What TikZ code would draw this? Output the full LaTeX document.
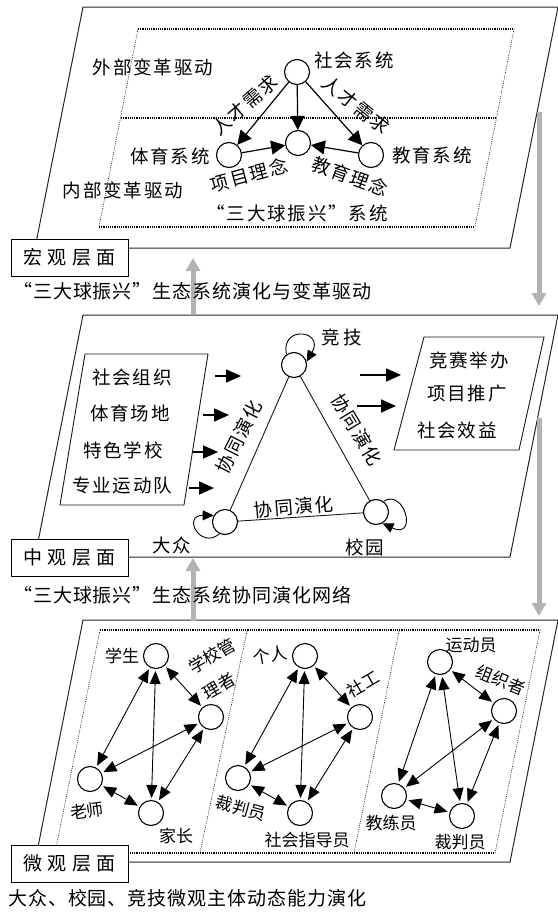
\documentclass[tikz,border=0pt]{standalone}
\usepackage{fontspec}
\newfontfamily\cjk[LetterSpace=10]{Noto Sans CJK SC}
\newfontfamily\cjkc[LetterSpace=5]{Noto Sans CJK SC}
\newfontfamily\cjkw[LetterSpace=28]{Noto Sans CJK SC}
\newfontfamily\cjkn{Noto Sans CJK SC}
\usetikzlibrary{arrows.meta}
\begin{document}
\begin{tikzpicture}[x=1pt,y=-1pt,
  panel/.style={draw=black!85, line width=1pt},
  dotthick/.style={line width=1.3pt, dash pattern=on 1.1pt off 1.1pt},
  dotthin/.style={line width=0.6pt, dash pattern=on 0.9pt off 1.3pt},
  thinline/.style={line width=0.9pt, draw=black!90},
  circ/.style={circle, draw, line width=1.1pt, minimum size=25pt, inner sep=0pt, fill=white},
  txt/.style={inner sep=0pt, font=\cjk\fontsize{18.5}{20}\selectfont},
  sml/.style={inner sep=0pt, font=\cjkn\fontsize{17}{18}\selectfont},
  captxt/.style={inner sep=0pt, anchor=west, font=\cjkc\fontsize{19}{20}\selectfont},
  lbl/.style={draw, fill=white, line width=1pt, minimum width=117pt, minimum height=37pt, inner sep=0pt, font=\cjkw\fontsize{19}{20}\selectfont},
  bigarr/.style={line width=1.2pt, -{Triangle[length=14pt,width=14pt]}},
  marr/.style={line width=1.8pt, -{Triangle[length=15pt,width=13pt]}},
  darr/.style={line width=0.9pt, {Triangle[length=13pt,width=11pt]}-{Triangle[length=13pt,width=11pt]}, shorten <=2pt, shorten >=2pt},
  larr/.style={line width=0.9pt, -{Triangle[length=11pt,width=10pt]}},
  garr/.style={line width=5pt, draw=black!30, -{Triangle[length=13pt,width=14pt]}}
]
\useasboundingbox (0,0) rectangle (557,913);
\fill[white] (0,0) rectangle (557,913);

% ================= MACRO =================
\draw[panel] (83,7) -- (558,7) -- (510,248) -- (35,248) -- cycle;
\draw[dotthick] (138,29) -- (514,29);
\draw[dotthick] (99,227) -- (475,227);
\draw[dotthick] (121,118) -- (496,118);
\draw[dotthin] (138,29) -- (99,227);
\draw[dotthin] (514,29) -- (475,227);

\node[txt] (wb) at (153,67) {外部变革驱动};
\node[txt] (nb) at (123,190) {内部变革驱动};
\node[circ] (sh) at (297,72) {};
\node[circ] (ct) at (298,143) {};
\node[circ] (ty) at (229,155) {};
\node[circ] (jy) at (371,155) {};
\node[txt] (sht) at (354,60) {社会系统};
\node[txt] (tyt) at (170,156) {体育系统};
\node[txt] (jyt) at (432,155) {教育系统};
\draw[bigarr] (sh) -- (ty);
\draw[bigarr] (sh) -- (ct);
\draw[bigarr] (sh) -- (jy);
\draw[bigarr] (ty) -- (ct);
\draw[bigarr] (jy) -- (ct);
\node[txt, rotate=41] (rc1) at (245,105) {人才需求};
\node[txt, rotate=-39] (rc2) at (356,105) {人才需求};
\node[txt, rotate=15] (xm) at (249,175) {项目理念};
\node[txt, rotate=-20] (jl) at (350,176) {教育理念};
\node[txt] (sys) at (297,213) {“三大球振兴”系统};

% ================= MESO =================
\draw[panel] (83,315) -- (558,315) -- (510,557) -- (35,557) -- cycle;
\draw[thinline] (85,354) -- (208,354) -- (184,505) -- (60,505) -- cycle;
\draw[thinline] (424,337) -- (544,337) -- (519,450) -- (394,450) -- cycle;
\node[txt] (l1) at (132,377) {社会组织};
\node[txt] (l2) at (130,413) {体育场地};
\node[txt] (l3) at (123,450) {特色学校};
\node[txt] (l4) at (122,485) {专业运动队};
\node[txt] (r1) at (469,360) {竞赛举办};
\node[txt] (r2) at (467,394) {项目推广};
\node[txt] (r3) at (457,430) {社会效益};

\coordinate (a1s) at (215,376); \coordinate (a1e) at (241,376);
\coordinate (a2s) at (203,415); \coordinate (a2e) at (229,415);
\coordinate (a3s) at (193,452); \coordinate (a3e) at (218,452);
\coordinate (a4s) at (189,488); \coordinate (a4e) at (214,488);
\coordinate (b1s) at (360,375); \coordinate (b1e) at (401,375);
\coordinate (b2s) at (357,406); \coordinate (b2e) at (396,406);
\draw[marr] (a1s) -- (a1e);
\draw[marr] (a2s) -- (a2e);
\draw[marr] (a3s) -- (a3e);
\draw[marr] (a4s) -- (a4e);
\draw[marr] (b1s) -- (b1e);
\draw[marr] (b2s) -- (b2e);

\node[circ] (jj) at (294,365) {};
\node[circ] (dz) at (225,522) {};
\node[circ] (xy) at (376,512) {};
\draw[thinline] (jj) -- (dz);
\draw[thinline] (jj) -- (xy);
\draw[thinline] (dz) -- (xy);
\draw[larr] (jj.125) .. controls (280,325) and (325,330) .. (jj.15);
\draw[larr] (dz.-115) .. controls (200,550) and (182,515) .. (dz.150);
\draw[larr] (xy.55) .. controls (405,488) and (418,540) .. (xy.-60);
\node[txt] (jjt) at (342,337) {竞\,技};
\node[txt] (dzt) at (172,545) {大众};
\node[txt] (xyt) at (365,547) {校园};
\node[txt, rotate=63] (e1) at (239,437) {协同演化};
\node[txt, rotate=-59] (e2) at (357,430) {协同演化};
\node[txt, rotate=5] (e3) at (294,507) {协同演化};

% ================= MICRO =================
\draw[panel] (83,620) -- (558,620) -- (510,862) -- (35,862) -- cycle;
\draw[dotthick] (100,630) -- (540,630);
\draw[dotthick] (55,853) -- (495,853);
\draw[dotthin] (100,630) -- (55,853);
\draw[dotthin] (540,630) -- (495,853);
\draw[dotthin] (247,631) -- (200,853);
\draw[dotthin] (399,631) -- (354,853);

\node[circ] (xs) at (156,656) {};
\node[circ] (gl) at (211,717) {};
\node[circ] (ls) at (90,779) {};
\node[circ] (jz) at (151,813) {};
\node[circ] (gr) at (305,656) {};
\node[circ] (sg) at (360,717) {};
\node[circ] (cpa) at (238,778) {};
\node[circ] (zd) at (300,813) {};
\node[circ] (yd) at (440,662) {};
\node[circ] (zz) at (504,711) {};
\node[circ] (jlc) at (394,796) {};
\node[circ] (cpb) at (462,816) {};
\foreach \a/\b in {xs/ls, xs/jz, xs/gl, gl/ls, gl/jz, ls/jz,
                   gr/cpa, gr/zd, gr/sg, sg/cpa, sg/zd, cpa/zd,
                   yd/jlc, yd/cpb, yd/zz, zz/jlc, zz/cpb, jlc/cpb}
  \draw[darr] (\a) -- (\b);

\node[sml] (xst) at (122,656) {学生};
\node[sml, rotate=30] (glt1) at (212,656) {学校管};
\node[sml, rotate=30] (glt2) at (219,686) {理者};
\node[sml, rotate=8] (lst) at (87,811) {老师};
\node[sml] (jzt) at (176,836) {家长};
\node[sml, rotate=10] (grt) at (270,655) {个人};
\node[sml, rotate=30] (sgt) at (363,684) {社工};
\node[sml, rotate=-15] (cpat) at (241,808) {裁判员};
\node[sml] (zdt) at (307,840) {社会指导员};
\node[sml] (ydt) at (471,645) {运动员};
\node[sml, rotate=-22] (zzt) at (501,680) {组织者};
\node[sml] (jlt) at (391,823) {教练员};
\node[sml] (cpbt) at (460,842) {裁判员};

% ================= GRAY ARROWS =================
\coordinate (g1s) at (193,315); \coordinate (g1e) at (193,258);
\coordinate (g2s) at (193,621); \coordinate (g2e) at (193,558);
\coordinate (g3s) at (539,112); \coordinate (g3e) at (539,306);
\coordinate (g4s) at (539,418); \coordinate (g4e) at (539,616);
\draw[garr] (g1s) -- (g1e);
\draw[garr] (g2s) -- (g2e);
\draw[garr] (g3s) -- (g3e);
\draw[garr] (g4s) -- (g4e);

% ================= CAPTIONS & LABELS =================
\node[captxt] (c1) at (13,291) {“三大球振兴”生态系统演化与变革驱动};
\node[captxt] (c2) at (13,595) {“三大球振兴”生态系统协同演化网络};
\node[captxt] (c3) at (8,898) {大众、校园、竞技微观主体动态能力演化};
\node[lbl] (L1) at (69.5,257.5) {宏观层面};
\node[lbl] (L2) at (69.5,557.5) {中观层面};
\node[lbl] (L3) at (69.5,863.5) {微观层面};
\end{tikzpicture}
\end{document}
